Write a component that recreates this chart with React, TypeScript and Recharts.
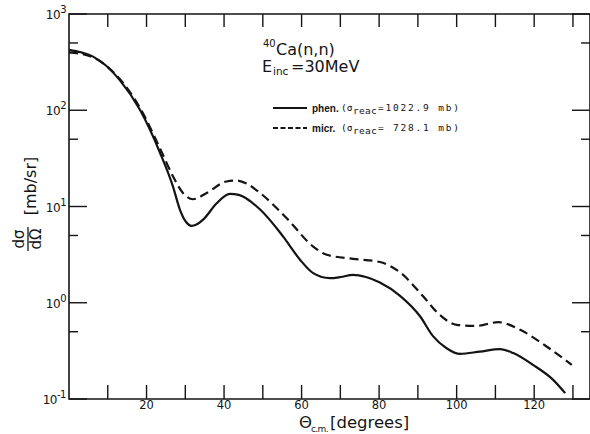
import { LineChart, Line, XAxis, YAxis, ReferenceArea } from 'recharts';

// phen. curve (solid), degrees c.m. and mb/sr
const phenDeg = [0, 3.1, 6.1, 9.6, 13.05, 18.3, 23.5, 26.85, 28.6, 30.2, 31.6, 32.9, 34.6, 38.1, 41.5, 43.8, 49.3, 55.2, 59.6, 63, 67.3, 70.1, 73.3, 76.6, 80.2, 85.4, 90.6, 93.9, 97.4, 100.9, 106, 111.2, 114.6, 119.7, 124.9, 128];
const phenVal = [425, 400, 363, 290, 207, 101, 36, 16, 9.3, 6.9, 6.3, 6.5, 7.3, 10.8, 13.5, 13.2, 9.3, 4.9, 2.8, 2.03, 1.8, 1.85, 1.95, 1.85, 1.62, 1.18, 0.72, 0.45, 0.337, 0.294, 0.311, 0.33, 0.3, 0.226, 0.158, 0.115];

// micr. curve (dashed)
const micrDeg = [0, 3.1, 6.1, 9.6, 13.05, 18.3, 23.5, 26.85, 29.4, 32, 35.5, 40.6, 43.2, 45.8, 49.3, 56.1, 63, 66.5, 73.3, 80.2, 85.4, 91.4, 95.6, 100, 105.1, 110.7, 116.4, 123.2, 129.7];
const micrVal = [400, 385, 355, 290, 212, 106, 40, 20.5, 13.8, 11.9, 13.8, 18.2, 18.6, 17.3, 13.8, 7.6, 3.84, 3.15, 2.86, 2.65, 2.07, 1.16, 0.75, 0.59, 0.575, 0.628, 0.523, 0.351, 0.226];

const xTicks = [10, 20, 30, 40, 50, 60, 70, 80, 90, 100, 110, 120, 130];
const xLabels = [20, 40, 60, 80, 100, 120];
const yTicks = [0.1, 0.5, 1, 5, 10, 50, 100, 500, 1000];
const yDecades = [0.1, 1, 10, 100, 1000];
const yExps = ['-1', '0', '1', '2', '3'];

const W = 590;
const H = 434;
const LEFT = 69;
const TOP = 14;
const BOTTOM = 399;
const RIGHT = 590;
const INK = '#141414';
const FONT = '"DejaVu Sans", sans-serif';
const MONO = '"DejaVu Sans Mono", monospace';
const NARROW = '"Liberation Sans", sans-serif';

const phenData = phenDeg.map((d, i) => ({ deg: d, v: phenVal[i] }));
const micrData = micrDeg.map((d, i) => ({ deg: d, v: micrVal[i] }));

const renderXTick = (props: any) => {
  const x = props.payload.coordinate;
  const val = props.payload.value;
  return (
    <g key={`xt-${val}`}>
      <line x1={x} x2={x} y1={BOTTOM} y2={BOTTOM - 14} stroke={INK} strokeWidth={1.4} />
      <line x1={x} x2={x} y1={TOP} y2={TOP + 13} stroke={INK} strokeWidth={1.4} />
      {xLabels.includes(val) && (
        <text x={x} y={BOTTOM + 10} textAnchor="middle" fontFamily={FONT} fontSize={11.5} fill={INK}>
          {val}
        </text>
      )}
    </g>
  );
};

const renderYTick = (props: any) => {
  const y = props.payload.coordinate;
  const val = props.payload.value;
  const k = yDecades.indexOf(val);
  const major = k >= 0;
  const len = major ? 18 : 9;
  return (
    <g key={`yt-${val}`}>
      <line x1={LEFT} x2={LEFT + len} y1={y} y2={y} stroke={INK} strokeWidth={1.4} />
      <line x1={RIGHT - len} x2={RIGHT} y1={y} y2={y} stroke={INK} strokeWidth={1.4} />
      {major && (
        <text x={66} y={y + 5} textAnchor="end" fontFamily={FONT} fontSize={12} fill={INK} letterSpacing={-0.5}>
          10
          <tspan dy={-6} fontSize={10}>{yExps[k]}</tspan>
        </text>
      )}
    </g>
  );
};

// small "(σreac=... mb)" note, pieces laid side by side
const ReacNote = ({ x, y, value }: { x: number; y: number; value: string }) => (
  <g fontFamily={MONO} fontSize={9.5}>
    <text x={x} y={y}>(σ</text>
    <text x={x + 12} y={y + 3} letterSpacing={0.3}>reac</text>
    <text x={x + 37} y={y} letterSpacing={1.8}>{value}</text>
  </g>
);

export default function App() {
  return (
    <div style={{ position: 'absolute', left: 0, top: 0, width: W, height: H, background: '#fff' }}>
      <LineChart
        width={W}
        height={H}
        margin={{ top: TOP, right: W - RIGHT, bottom: 0, left: 0 }}
      >
        <XAxis
          dataKey="deg"
          type="number"
          domain={[0, 134.4]}
          ticks={xTicks}
          allowDataOverflow
          height={H - BOTTOM}
          axisLine={false}
          tickLine={false}
          tick={renderXTick}
          interval={0}
        />
        <YAxis
          type="number"
          scale="log"
          domain={[0.1, 1000]}
          ticks={yTicks}
          allowDataOverflow
          width={LEFT}
          axisLine={false}
          tickLine={false}
          tick={renderYTick}
          interval={0}
        />
        <ReferenceArea x1={0} x2={134.4} y1={0.1} y2={1000} fill="none" stroke={INK} strokeWidth={1.6} />
        <Line
          data={phenData}
          dataKey="v"
          type="monotone"
          stroke={INK}
          strokeWidth={2.2}
          dot={false}
          isAnimationActive={false}
        />
        <Line
          data={micrData}
          dataKey="v"
          type="monotone"
          stroke={INK}
          strokeWidth={2.2}
          strokeDasharray="9 5"
          dot={false}
          isAnimationActive={false}
        />
      </LineChart>
      <svg
        width={W}
        height={H}
        style={{ position: 'absolute', left: 0, top: 0, pointerEvents: 'none' }}
        fontFamily={FONT}
        fill={INK}
      >
        {/* reaction label */}
        <text x={263} y={47} fontSize={10}>40</text>
        <text x={276} y={55} fontSize={16}>Ca(n,n)</text>
        <text x={262} y={71.5} fontSize={16}>E</text>
        <text x={273} y={74.5} fontSize={10.5}>inc</text>
        <text x={291} y={71.5} fontSize={16}>=30MeV</text>

        {/* legend */}
        <line x1={273} x2={307} y1={108} y2={108} stroke={INK} strokeWidth={2} />
        <text x={312} y={112} fontFamily={NARROW} fontSize={10} fontWeight="bold">phen.</text>
        <ReacNote x={341} y={111} value="=1022.9 mb)" />
        <line x1={273} x2={307} y1={128} y2={128} stroke={INK} strokeWidth={2} strokeDasharray="5 2.5" />
        <text x={312} y={132} fontFamily={NARROW} fontSize={10} fontWeight="bold">micr.</text>
        <ReacNote x={341} y={131} value="= 728.1 mb)" />

        {/* x axis title */}
        <text x={299} y={428} fontSize={16.5}>Θ</text>
        <text x={311} y={432} fontSize={9} letterSpacing={-0.6}>c.m.</text>
        <text x={330} y={428} fontSize={16.5}>[degrees]</text>

        {/* y axis title */}
        <g transform="translate(31,186) rotate(-90)">
          <text x={0} y={5} textAnchor="middle" fontSize={16}>[mb/sr]</text>
        </g>
        <g transform="translate(28,239) rotate(-90)">
          <text x={0} y={-4} textAnchor="middle" fontSize={15}>dσ</text>
          <line x1={-12} x2={12} y1={0} y2={0} stroke={INK} strokeWidth={1.3} />
          <text x={0} y={13} textAnchor="middle" fontSize={15}>dΩ</text>
        </g>
      </svg>
    </div>
  );
}
